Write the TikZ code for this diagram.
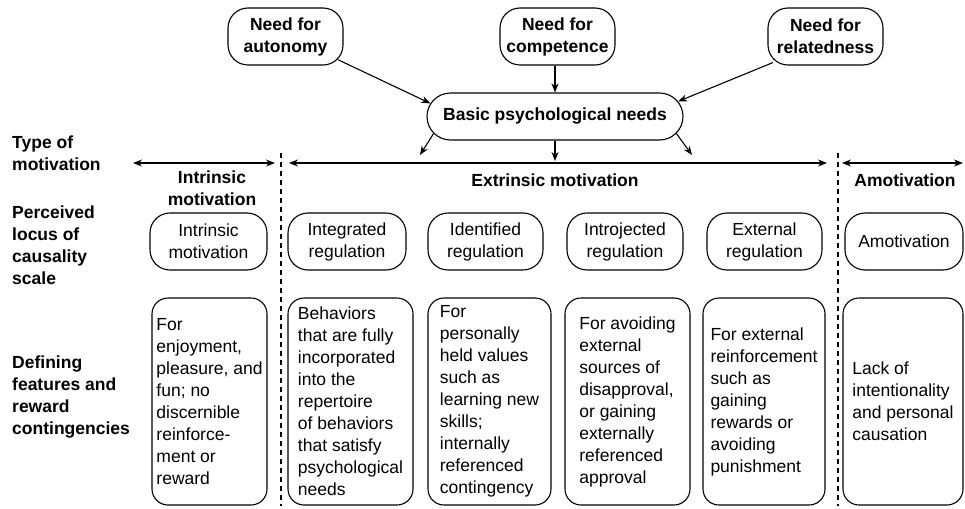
\documentclass[tikz,border=0pt]{standalone}
\usepackage{fontspec}
\setmainfont{Liberation Sans}
\usetikzlibrary{arrows.meta,shapes.misc}
\begin{document}
\begin{tikzpicture}[x=1pt,y=-1pt,
  font=\fontsize{17.5}{22}\selectfont,
  topbox/.style={draw,line width=1.1pt,rounded corners=20pt,align=center,inner sep=0pt,
    minimum width=115pt,minimum height=57pt,font=\fontsize{17.5}{22}\selectfont\bfseries},
  basicbox/.style={draw,line width=1.1pt,rounded rectangle,align=center,inner sep=0pt,
    minimum width=256pt,minimum height=47pt,font=\fontsize{17.5}{22}\selectfont\bfseries},
  locbox/.style={draw,line width=1.1pt,rounded corners=20pt,align=center,inner sep=0pt,
    minimum height=57pt},
  defbox/.style={draw,line width=1.1pt,rounded corners=16pt,align=left,inner sep=0pt,
    minimum height=207pt},
  rowlabel/.style={anchor=west,align=left,inner sep=0pt,font=\fontsize{17.5}{22}\selectfont\bfseries},
  collabel/.style={align=center,inner sep=0pt,font=\fontsize{17.5}{22}\selectfont\bfseries},
  arr/.style={-{Stealth[length=9pt,width=7pt]},line width=1.1pt},
  darr/.style={{Stealth[length=9pt,width=7pt]}-{Stealth[length=9pt,width=7pt]},line width=1.3pt},
  sep/.style={line width=1.6pt,dash pattern=on 5pt off 4pt}
]
\useasboundingbox[fill=white] (0,0) rectangle (965,508);

% top needs
\node[topbox] (aut) at (285.5,36.5) {Need for\\autonomy};
\node[topbox] (comp) at (557.5,36.5) {Need for\\competence};
\node[topbox] (rel) at (825.5,36.5) {Need for\\relatedness};
\node[basicbox] (basic) at (555,116.5) {Basic psychological needs};

\draw[arr,shorten <=-6pt] (aut.-24) -- (basic.174);
\draw[arr] (basic.north |- comp.south) -- (basic.north);
\draw[arr,shorten <=-6pt] (rel.206.8) -- (basic.7.3);

\coordinate (dl) at (420,155);
\coordinate (dm) at (555,161);
\coordinate (dr) at (692,155);
\draw[arr] (basic.188.2) -- (dl);
\draw[arr] (basic.south) -- (dm);
\draw[arr] (basic.-8.6) -- (dr);

% row labels
\node[rowlabel] (lt) at (12,153) {Type of\\motivation};
\node[rowlabel] (lp) at (12,245.5) {Perceived\\locus of\\causality\\scale};
\node[rowlabel] (ld) at (12,397.5) {Defining\\features and\\reward\\contingencies};

% motivation type arrows
\coordinate (i1) at (133,163);
\coordinate (i2) at (275,163);
\coordinate (e1) at (289,163);
\coordinate (e2) at (827,163);
\coordinate (a1) at (842,163);
\coordinate (a2) at (963,163);
\draw[darr] (i1) -- (i2);
\draw[darr] (e1) -- (e2);
\draw[darr] (a1) -- (a2);

% separators
\coordinate (s1t) at (281,153);
\coordinate (s1b) at (281,506);
\coordinate (s2t) at (838,153);
\coordinate (s2b) at (838,506);
\draw[sep] (s1t) -- (s1b);
\draw[sep] (s2t) -- (s2b);

% column labels
\node[collabel] (ci) at (212,188) {Intrinsic\\motivation};
\node[collabel] (ce) at (555,180) {Extrinsic motivation};
\node[collabel] (ca) at (905,180) {Amotivation};

% perceived locus boxes
\node[locbox,minimum width=117pt] (p1) at (208.5,241.5) {Intrinsic\\motivation};
\node[locbox,minimum width=118pt] (p2) at (347,241.5) {Integrated\\regulation};
\node[locbox,minimum width=115pt] (p3) at (485.5,241.5) {Identified\\regulation};
\node[locbox,minimum width=116pt] (p4) at (625,241.5) {Introjected\\regulation};
\node[locbox,minimum width=115pt] (p5) at (764.5,241.5) {External\\regulation};
\node[locbox,minimum width=118pt] (p6) at (904,241.5) {Amotivation};

% defining features boxes
\node[defbox,minimum width=115pt] (d1) at (209.5,401.5)
  {For\\enjoyment,\\pleasure, and\\fun; no\\discernible\\reinforce-\\ment or\\reward};
\node[defbox,minimum width=125pt] (d2) at (350.5,401.5)
  {Behaviors\\that are fully\\incorporated\\into the\\repertoire\\of behaviors\\that satisfy\\psychological\\needs};
\node[defbox,minimum width=123pt] (d3) at (489.5,401.5)
  {For\\personally\\held values\\such as\\learning new\\skills;\\internally\\referenced\\contingency};
\node[defbox,minimum width=125pt] (d4) at (627.5,401.5)
  {For avoiding\\external\\sources of\\disapproval,\\or gaining\\externally\\referenced\\approval};
\node[defbox,minimum width=122pt] (d5) at (764,401.5)
  {For external\\reinforcement\\such as\\gaining\\rewards or\\avoiding\\punishment};
\node[defbox,minimum width=120pt] (d6) at (903,401.5)
  {Lack of\\intentionality\\and personal\\causation};
\end{tikzpicture}
\end{document}
